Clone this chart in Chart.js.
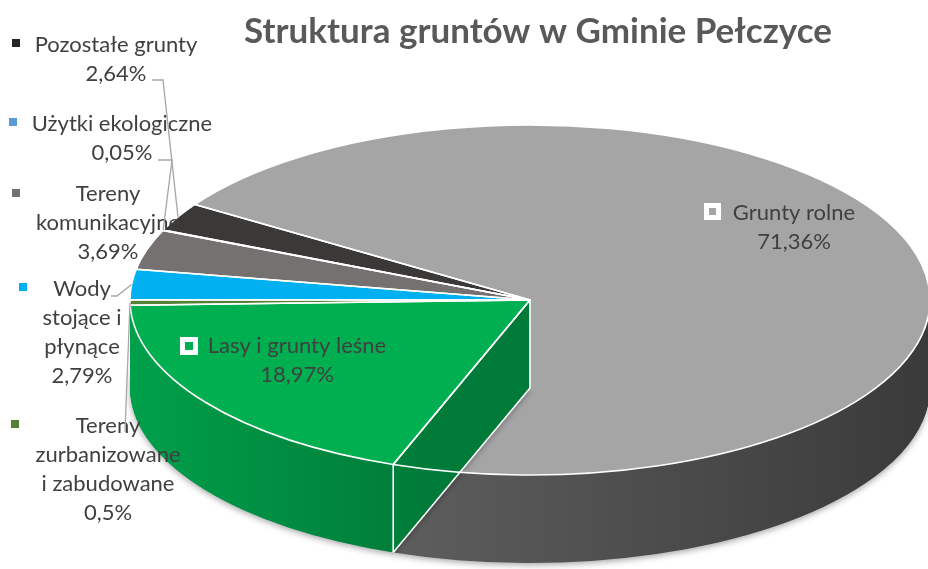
<!DOCTYPE html>
<html>
<head>
<meta charset="utf-8">
<script src="https://cdn.jsdelivr.net/npm/chart.js@4.4.1/dist/chart.umd.min.js"></script>
<style>
  html, body { margin: 0; padding: 0; background: #fff; }
  #wrap { width: 928px; height: 569px; }
</style>
</head>
<body>
<div id="wrap"><canvas id="landChart" width="928" height="569"></canvas></div>
<script>
// ---- data ----
const categories = [
  'Grunty rolne',
  'Lasy i grunty leśne',
  'Tereny zurbanizowane i zabudowane',
  'Wody stojące i płynące',
  'Tereny komunikacyjne',
  'Użytki ekologiczne',
  'Pozostałe grunty'
];
const shares = [71.36, 18.97, 0.5, 2.79, 3.69, 0.05, 2.64];
const shareLabels = ['71,36%', '18,97%', '0,5%', '2,79%', '3,69%', '0,05%', '2,64%'];
// category names split into lines the way the source wraps them
const labelLines = [
  ['Grunty rolne'],
  ['Lasy i grunty leśne'],
  ['Tereny', 'zurbanizowane', 'i zabudowane'],
  ['Wody', 'stojące i', 'płynące'],
  ['Tereny', 'komunikacyjne'],
  ['Użytki ekologiczne'],
  ['Pozostałe grunty']
];

// ---- styles ----
const topColors = ['#a5a5a5', '#00b050', '#548235', '#00b0f0', '#767171', '#5b9bd5', '#3b3838'];
const wallColors = [
  ['#5e5e5e', '#3a3a3a', 390, 930],
  ['#00a04b', '#007a38', 130, 430],
  '#3d6126', '#0088ba', '#575353', '#41729e', '#252323'
];
const markerColors = ['#a5a5a5', '#00b050', '#548235', '#00b0f0', '#767171', '#5b9bd5', '#262626'];

// tilted pie geometry (screen px)
const CX = 530, CY = 300, RX = 400, RY = 175, DEPTH = 88;
const FRONT = 1;     // forest slice is painted last, as in the source
const LINE = 29;     // label line height

// label blocks: text centre x, first baseline y, marker box, inside-style marker
const labelBoxes = [
  { x: 794, y: 220, mx: 704, my: 203, ms: 17, inside: true },
  { x: 297, y: 353, mx: 180, my: 337, ms: 18, inside: true },
  { x: 108, y: 433, mx: 11, my: 420, ms: 8 },
  { x: 82,  y: 296, mx: 19, my: 283, ms: 8 },
  { x: 108, y: 201, mx: 12, my: 189, ms: 8 },
  { x: 122, y: 131, mx: 9,  my: 118, ms: 8 },
  { x: 116, y: 52,  mx: 12, my: 39,  ms: 8 }
];
// leader line start points, the end is the slice's rim
const leaders = {
  6: [[152, 80], [163, 80]],
  5: [[158, 160], [172, 160]],
  3: [[111, 296], [117, 296]],
  2: [[125, 432]]
};

function sectorPath(ctx, arc, dy) {
  const r = arc.outerRadius;
  ctx.save();
  ctx.translate(CX, CY + dy);
  ctx.scale(RX / r, RY / r);
  ctx.translate(-arc.x, -arc.y);
  ctx.beginPath();
  ctx.moveTo(arc.x, arc.y);
  ctx.arc(arc.x, arc.y, r, arc.startAngle, arc.endAngle);
  ctx.closePath();
  ctx.restore();
}

function rimPoint(ang) {
  return { x: CX + RX * Math.cos(ang), y: CY + RY * Math.sin(ang) };
}

function wallFill(ctx, i) {
  const w = wallColors[i];
  if (!Array.isArray(w)) return w;
  const g = ctx.createLinearGradient(w[2], 0, w[3], 0);
  g.addColorStop(0, w[0]);
  g.addColorStop(1, w[1]);
  return g;
}

function drawWalls(ctx, arc, i) {
  const fill = wallFill(ctx, i);
  for (let d = DEPTH; d > 0; d--) {
    sectorPath(ctx, arc, d);
    ctx.save();
    if (d === DEPTH) {
      ctx.shadowColor = 'rgba(0,0,0,0.35)';
      ctx.shadowBlur = 6;
      ctx.shadowOffsetY = 2;
    }
    ctx.fillStyle = fill;
    ctx.fill();
    ctx.restore();
  }
}

function drawTop(ctx, arc) {
  const r = arc.outerRadius;
  ctx.save();
  ctx.translate(CX, CY);
  ctx.scale(RX / r, RY / r);
  ctx.translate(-arc.x, -arc.y);
  arc.draw(ctx);
  ctx.restore();
}

function drawEdges(ctx, arcs) {
  ctx.save();
  ctx.strokeStyle = '#fff';
  ctx.lineWidth = 1.6;
  ctx.lineJoin = 'round';
  arcs.forEach(arc => { sectorPath(ctx, arc, 0); ctx.stroke(); });
  const p = rimPoint(arcs[FRONT].startAngle);
  ctx.beginPath();
  ctx.moveTo(p.x, p.y);
  ctx.lineTo(p.x, p.y + DEPTH);
  ctx.moveTo(CX, CY);
  ctx.lineTo(CX, CY + DEPTH);
  ctx.lineTo(p.x, p.y + DEPTH);
  ctx.stroke();
  ctx.restore();
}

function drawLabels(chart) {
  const ctx = chart.ctx;
  const arcs = chart.getDatasetMeta(0).data;
  ctx.save();
  ctx.font = '22px Lato';
  ctx.textAlign = 'center';
  ctx.textBaseline = 'alphabetic';
  labelBoxes.forEach((b, i) => {
    const lines = labelLines[i].concat(shareLabels[i]);
    ctx.fillStyle = '#404040';
    lines.forEach((t, k) => ctx.fillText(t, b.x, b.y + k * LINE));
    if (b.inside) {
      ctx.fillStyle = '#fff';
      ctx.fillRect(b.mx, b.my, b.ms, b.ms);
      ctx.fillStyle = markerColors[i];
      ctx.fillRect(b.mx + 5, b.my + 5, b.ms - 10, b.ms - 10);
    } else {
      ctx.fillStyle = markerColors[i];
      ctx.fillRect(b.mx, b.my, b.ms, b.ms);
    }
  });
  ctx.strokeStyle = '#a6a6a6';
  ctx.lineWidth = 1.3;
  Object.entries(leaders).forEach(([i, pts]) => {
    const arc = arcs[i];
    const end = rimPoint((arc.startAngle + arc.endAngle) / 2);
    ctx.beginPath();
    ctx.moveTo(pts[0][0], pts[0][1]);
    pts.slice(1).forEach(q => ctx.lineTo(q[0], q[1]));
    ctx.lineTo(end.x, end.y);
    ctx.stroke();
  });
  ctx.restore();
}

const pie3d = {
  id: 'pie3d',
  beforeDatasetsDraw(chart) {
    const ctx = chart.ctx;
    const arcs = chart.getDatasetMeta(0).data;
    const back = arcs.map((a, i) => i).filter(i => i !== FRONT);
    back.forEach(i => drawWalls(ctx, arcs[i], i));
    back.forEach(i => drawTop(ctx, arcs[i]));
    drawWalls(ctx, arcs[FRONT], FRONT);
    drawTop(ctx, arcs[FRONT]);
    drawEdges(ctx, arcs);
    return false;
  },
  afterDraw(chart) {
    drawLabels(chart);
  }
};

Chart.defaults.font.family = 'Lato';

new Chart(document.getElementById('landChart'), {
  type: 'pie',
  data: {
    labels: categories,
    datasets: [{
      data: shares,
      backgroundColor: topColors,
      borderWidth: 0,
      clip: false
    }]
  },
  options: {
    responsive: false,
    animation: false,
    devicePixelRatio: 1,
    rotation: -56.9,
    layout: { padding: { left: 148 } },
    plugins: {
      legend: { display: false },
      tooltip: { enabled: false },
      title: {
        display: true,
        text: 'Struktura gruntów w Gminie Pełczyce',
        color: '#595959',
        font: { family: 'Lato', size: 35, weight: 'bold' },
        padding: { top: 11, bottom: 8 }
      }
    }
  },
  plugins: [pie3d]
});
</script>
</body>
</html>
